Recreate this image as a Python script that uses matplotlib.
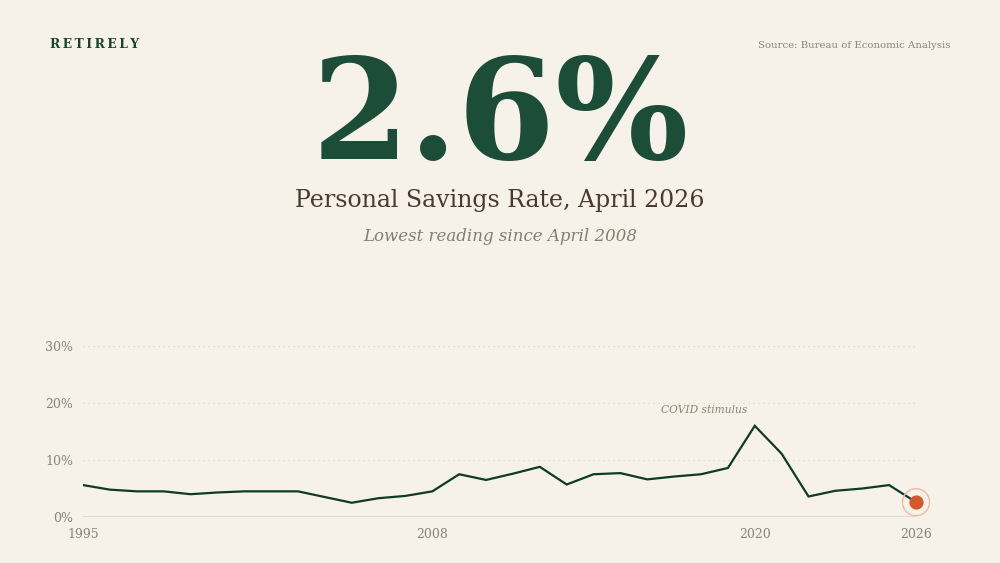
import numpy as np
import matplotlib.pyplot as plt

years = list(range(1995, 2027))
rate = [5.6, 4.8, 4.5, 4.5, 4.0, 4.3, 4.5, 4.5, 4.5, 3.5, 2.5, 3.3, 3.7, 4.5,
        7.5, 6.5, 7.6, 8.8, 5.7, 7.5, 7.7, 6.6, 7.1, 7.5, 8.6, 16.0, 11.1,
        3.6, 4.6, 5.0, 5.6, 2.6]
yticks = [0, 10, 20, 30]
xticks = [1995, 2008, 2020, 2026]

bg = '#f6f2ea'
green = '#1b4d38'
grey = '#8c8275'

plt.rcParams['font.family'] = ['DejaVu Serif']

W, H = 1000, 563
fig = plt.figure(figsize=(W/100, H/100), dpi=100, facecolor=bg)

ax = fig.add_axes([83/W, 1-517/H, (916-83)/W, 171/H], facecolor=bg)
ax.set_xlim(1995, 2026)
ax.set_ylim(0, 30)

for v in yticks[1:]:
    ax.axhline(v, color='#ddd6c8', lw=0.9, ls=(0, (1, 3)), zorder=1)
ax.axhline(0, color='#e2dccd', lw=1.5, zorder=1)

ax.plot(years, rate, color='#0e3a26', lw=1.6, zorder=3, solid_joinstyle='miter')
ax.scatter([years[-1]], [rate[-1]], s=380, facecolor='none',
           edgecolor='#f0b9a0', lw=1.0, zorder=4, clip_on=False)
ax.scatter([years[-1]], [rate[-1]], s=85, color='#d4582a', zorder=5, clip_on=False)

ax.text(2018.1, 18.7, 'COVID stimulus', style='italic', fontsize=7.7,
        color=grey, ha='center', va='center')

ax.set_yticks(yticks)
ax.set_yticklabels(['%d%%' % v for v in yticks])
ax.set_xticks(xticks)
ax.set_xticklabels([str(v) for v in xticks])
ax.tick_params(length=0, colors=grey, labelsize=9)
ax.tick_params(axis='y', pad=7)
ax.tick_params(axis='x', pad=8)
for s in ax.spines.values():
    s.set_visible(False)

fig.text(50/W, 1-45/H, '\u2009'.join('RETIRELY'), fontsize=8.8, fontweight='bold',
         color='#17432f', ha='left', va='center')
fig.text(950/W, 1-46/H, 'Source: Bureau of Economic Analysis', fontsize=7.3,
         color=grey, ha='right', va='center')
fig.text(0.5, 1-159/H, '2.6%', fontsize=101, fontweight='bold', color=green,
         ha='center', va='baseline')
fig.text(0.5, 1-200/H, 'Personal Savings Rate, April 2026', fontsize=17,
         color='#4a3a2e', ha='center', va='center')
fig.text(0.5, 1-236/H, 'Lowest reading since April 2008', fontsize=12,
         style='italic', color='#877c6e', ha='center', va='center')

fig.savefig('out.png', dpi=100, facecolor=bg)
